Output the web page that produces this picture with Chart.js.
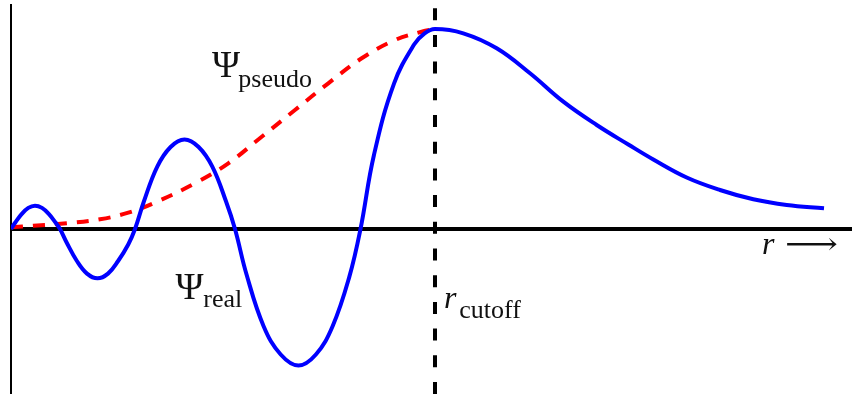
<!DOCTYPE html>
<html>
<head>
<meta charset="utf-8">
<script src="https://cdn.jsdelivr.net/npm/chart.js@4/dist/chart.umd.min.js"></script>
<style>
  html, body { margin: 0; padding: 0; background: #fff; }
  #wrap { width: 852px; height: 394px; }
</style>
</head>
<body>
<div id="wrap"><canvas id="psiChart"></canvas></div>
<script>
// radius in units of r_cutoff, wavefunction normalised to its value at r_cutoff
const rReal = [0, 0.0101, 0.0255, 0.0408, 0.0566, 0.0731, 0.089, 0.105, 0.1156,
  0.1315, 0.1554, 0.1792, 0.204, 0.2288, 0.2526, 0.2765, 0.2925,
  0.3134, 0.345, 0.3764, 0.4092, 0.4425, 0.4748, 0.5068, 0.5283,
  0.5552, 0.5958, 0.6361, 0.678, 0.7191, 0.7585, 0.7979, 0.8243,
  0.8559, 0.9033, 0.9507, 0.9755, 1.0,
  1.0667, 1.1455, 1.2241, 1.3026, 1.3814, 1.4559, 1.5149, 1.5936, 1.6722, 1.7507, 1.8295, 1.9175];
const psiReal = [0, 0.0325, 0.0755, 0.1055, 0.1165, 0.1055, 0.0755, 0.0325, 0,
  -0.0688, -0.16, -0.223, -0.2465, -0.223, -0.16, -0.0775, 0,
  0.1375, 0.312, 0.41, 0.4475, 0.41, 0.312, 0.14, 0,
  -0.225, -0.486, -0.6275, -0.6825, -0.6275, -0.486, -0.2395, 0,
  0.369, 0.727, 0.9225, 0.9785, 1.0,
  0.9785, 0.9035, 0.7785, 0.6365, 0.52, 0.4225, 0.3475, 0.2575, 0.195, 0.1485, 0.12, 0.1035];

const rPseudo = [0, 0.0526, 0.1314, 0.2099, 0.2767, 0.3356, 0.434, 0.5125, 0.5913, 0.6698,
  0.7483, 0.8271, 0.9057, 0.9686, 1.0];
const psiPseudo = [0.0085, 0.0165, 0.0285, 0.0485, 0.0815, 0.1285, 0.2285, 0.3285, 0.4615,
  0.595, 0.7285, 0.8535, 0.945, 0.9865, 1.0];

const rCutoff = 1;
const rMax = 1.9835;
const psiMin = -0.825;
const psiMax = 1.12;

const toPoints = (xs, ys) => xs.map((x, i) => ({ x: x, y: ys[i] }));

// text placed on the plot, anchored in data coordinates (left edge, baseline)
const notes = [
  { text: "Ψ", r: 0.474, psi: 0.7615, font: "38px 'Liberation Serif'" },
  { text: "pseudo", r: 0.536, psi: 0.7115, font: "26px 'Liberation Serif'" },
  { text: "Ψ", r: 0.388, psi: -0.3515, font: "38px 'Liberation Serif'" },
  { text: "real", r: 0.4535, psi: -0.3885, font: "26px 'Liberation Serif'" },
  { text: "r", r: 1.021, psi: -0.395, font: "italic 32px 'Liberation Serif'" },
  { text: "cutoff", r: 1.0573, psi: -0.4465, font: "26px 'Liberation Serif'" },
  { text: "r", r: 1.771, psi: -0.1265, font: "italic 32px 'Liberation Serif'" },
  { text: "⟶", r: 1.8255, psi: -0.1265, font: "30px 'DejaVu Serif'", width: 53 }
];

const notesPlugin = {
  id: "notes",
  afterDatasetsDraw(chart) {
    const { ctx, scales } = chart;
    ctx.save();
    ctx.fillStyle = "#111";
    ctx.textBaseline = "alphabetic";
    notes.forEach(n => {
      const px = scales.x.getPixelForValue(n.r);
      const py = scales.y.getPixelForValue(n.psi);
      ctx.font = n.font;
      if (n.width) {
        const w = ctx.measureText(n.text).width;
        ctx.save();
        ctx.translate(px, py);
        ctx.scale(n.width / w, 1);
        ctx.fillText(n.text, 0, 0);
        ctx.restore();
      } else {
        ctx.fillText(n.text, px, py);
      }
    });
    ctx.restore();
  }
};

new Chart(document.getElementById("psiChart"), {
  type: "scatter",
  data: {
    datasets: [
      {
        label: "r_cutoff",
        data: toPoints([rCutoff, rCutoff], [psiMin, psiMax]),
        showLine: true,
        borderColor: "#000",
        borderWidth: 4,
        borderDash: [12, 14.7],
        pointRadius: 0
      },
      {
        label: "real",
        data: toPoints(rReal, psiReal),
        showLine: true,
        borderColor: "#0000ff",
        borderWidth: 4,
        tension: 0.4,
        pointRadius: 0
      },
      {
        label: "pseudo",
        data: toPoints(rPseudo, psiPseudo),
        showLine: true,
        borderColor: "#ff0000",
        borderWidth: 4,
        borderDash: [12, 10],
        tension: 0.4,
        pointRadius: 0
      }
    ]
  },
  options: {
    responsive: true,
    maintainAspectRatio: false,
    animation: false,
    layout: { padding: { left: 11, top: 5, right: 0, bottom: 0 } },
    plugins: {
      legend: { display: false },
      tooltip: { enabled: false }
    },
    scales: {
      x: {
        type: "linear",
        min: 0,
        max: rMax,
        display: false
      },
      y: {
        min: psiMin,
        max: psiMax,
        afterBuildTicks: axis => { axis.ticks = [{ value: 0 }]; },
        ticks: { display: false },
        grid: {
          drawTicks: false,
          color: "#000",
          lineWidth: 4
        },
        border: { display: true, color: "#000", width: 2 }
      }
    }
  },
  plugins: [notesPlugin]
});
</script>
</body>
</html>
